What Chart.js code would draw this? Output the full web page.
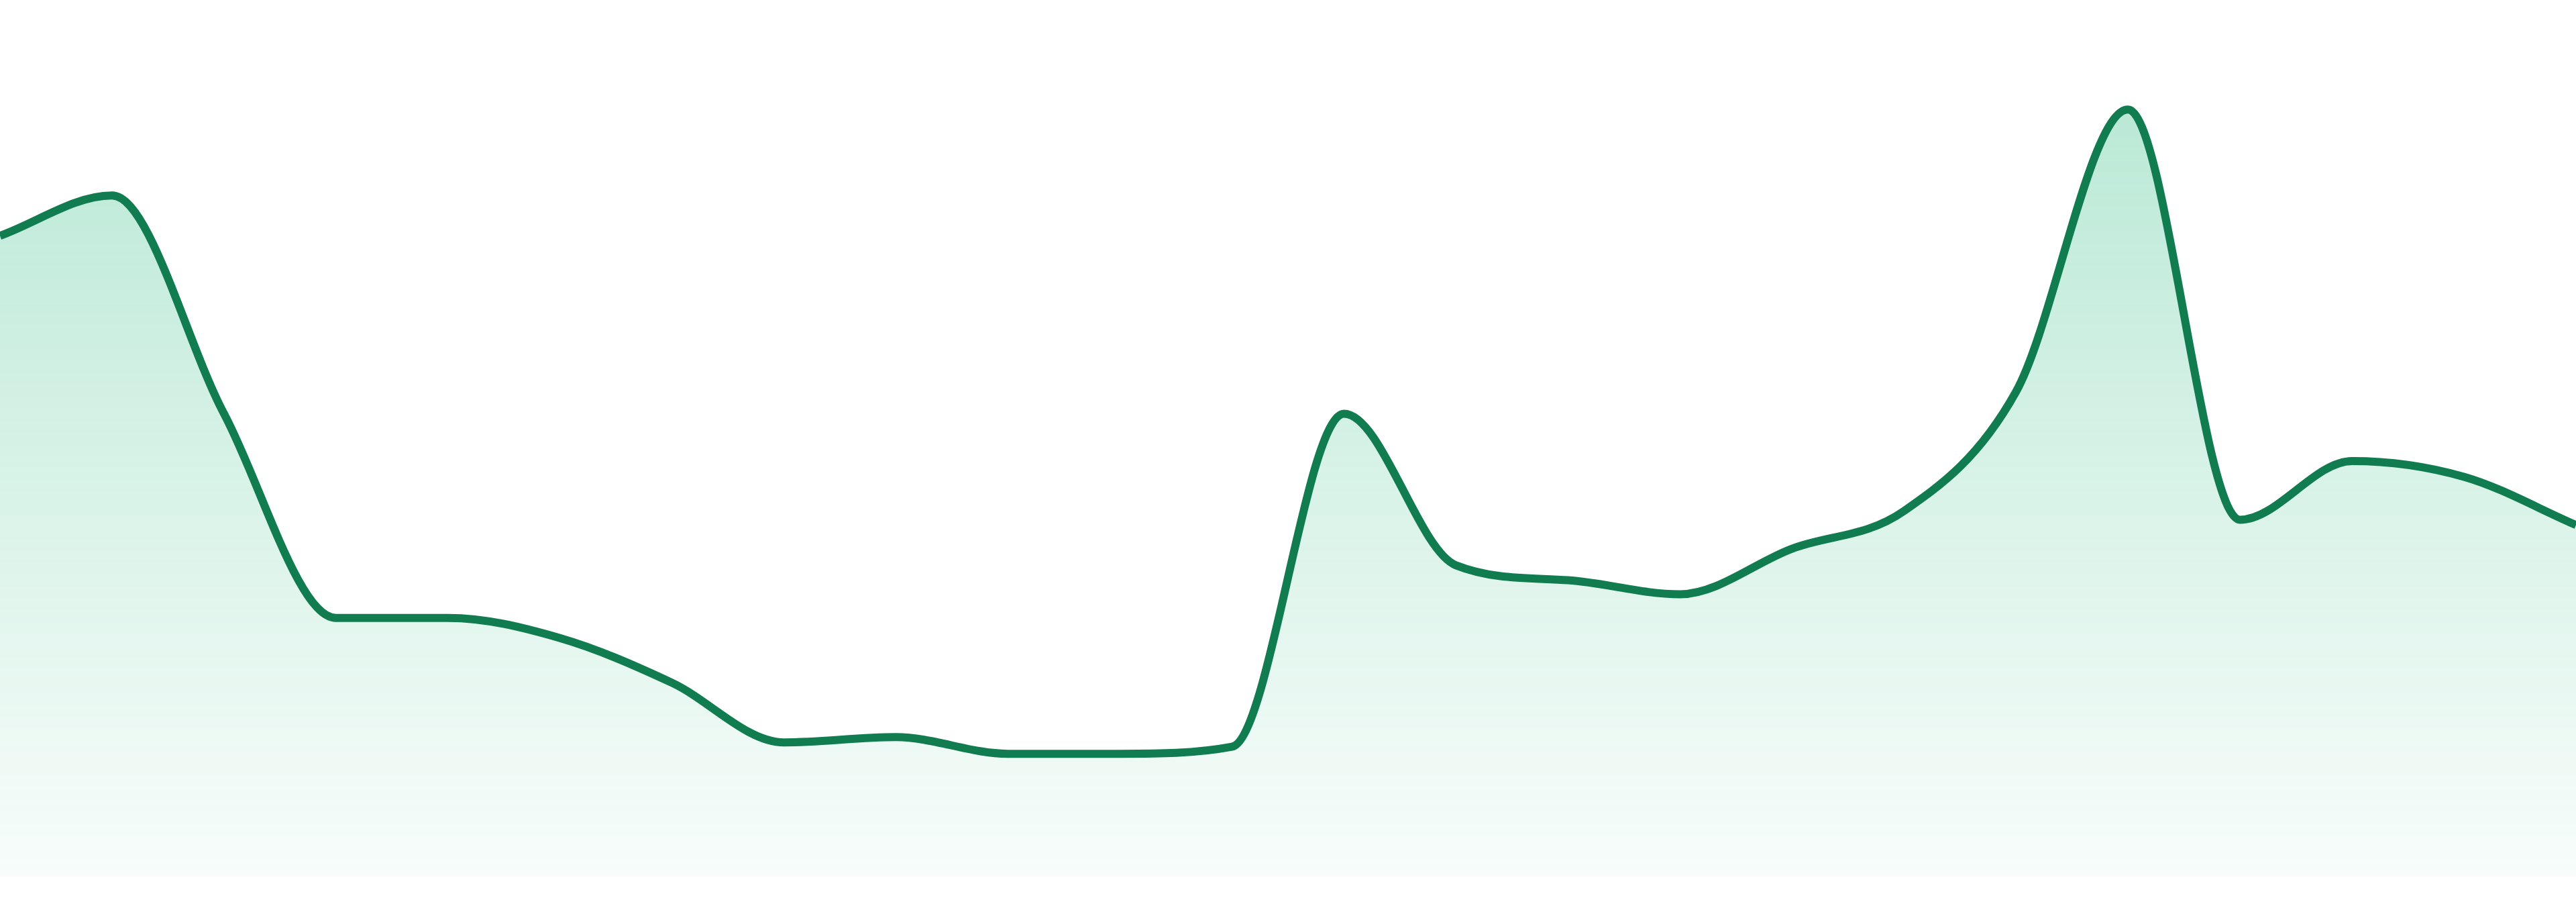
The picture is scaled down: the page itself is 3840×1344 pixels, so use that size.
<!DOCTYPE html>
<html>
<head>
<meta charset="utf-8">
<script src="https://cdn.jsdelivr.net/npm/chart.js@4/dist/chart.umd.min.js"></script>
<style>
  html, body { margin: 0; padding: 0; background: #ffffff; }
  .wrap { position: relative; width: 3840px; height: 1306px; }
</style>
</head>
<body>
<div class="wrap"><canvas id="trendChart"></canvas></div>
<script>
// Sparkline data
const days = ["1", "2", "3", "4", "5", "6", "7", "8", "9", "10", "11", "12",
  "13", "14", "15", "16", "17", "18", "19", "20", "21", "22", "23", "24"]
const values = [73.1, 77.7, 52.8, 29.5, 29.5, 27.2, 22.1, 15.3, 15.9, 14.0, 14.0, 14.8,
  52.8, 35.5, 33.8, 32.2, 37.4, 41.7, 55.3, 87.5, 40.7, 47.4, 45.6, 40.1]
const yRange = [0, 100]

const lineColor = "#117c50"

function areaGradient(context) {
  const chart = context.chart
  const area = chart.chartArea
  if (!area) return "rgba(16, 178, 112, 0.2)"
  const g = chart.ctx.createLinearGradient(0, area.top, 0, area.bottom)
  g.addColorStop(0, "rgba(16, 178, 112, 0.32)")
  g.addColorStop(1, "rgba(16, 178, 112, 0.03)")
  return g
}

document.addEventListener("DOMContentLoaded", () => {
  const ctx = document.getElementById("trendChart")
  new Chart(ctx, {
    type: "line",
    data: {
      labels: days,
      datasets: [
        {
          data: values,
          borderColor: lineColor,
          borderWidth: 12,
          backgroundColor: areaGradient,
          fill: "start",
          cubicInterpolationMode: "monotone",
          pointRadius: 0,
          pointHoverRadius: 0,
        },
      ],
    },
    options: {
      responsive: true,
      maintainAspectRatio: false,
      devicePixelRatio: 1,
      animation: false,
      layout: { padding: 0 },
      plugins: {
        legend: { display: false },
        tooltip: { enabled: false },
      },
      scales: {
        x: { display: false, offset: false },
        y: { display: false, min: yRange[0], max: yRange[1] },
      },
    },
  })
})
</script>
</body>
</html>
